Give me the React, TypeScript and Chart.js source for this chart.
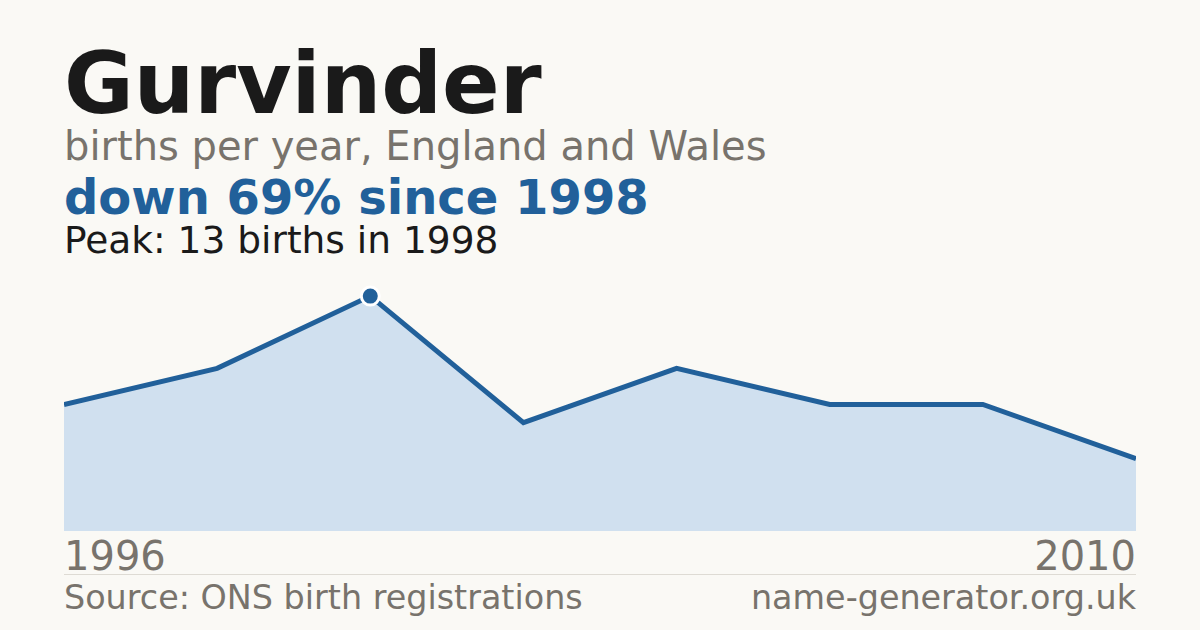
import { useEffect, useRef } from 'react';
import { Chart, registerables } from 'chart.js';

Chart.register(...registerables);

// births per year (years with suppressed counts are left out)
const years = ['1996', '1997', '1998', '2001', '2004', '2006', '2008', '2010'];
const births = [7, 9, 13, 6, 9, 7, 7, 4];

const peakIndex = births.indexOf(Math.max(...births));
const peak = births[peakIndex];
const latest = births[births.length - 1];
const dropPct = Math.round(((peak - latest) / peak) * 100);

const FONT = '"DejaVu Sans", sans-serif';
const BG = '#faf9f5';
const INK = '#1a1a1a';
const GREY = '#78736c';
const BLUE = '#21609a';

function BirthsChart() {
  const canvasRef = useRef<HTMLCanvasElement>(null);
  const chartRef = useRef<Chart | null>(null);

  useEffect(() => {
    if (!canvasRef.current) return;
    if (chartRef.current) chartRef.current.destroy();

    chartRef.current = new Chart(canvasRef.current, {
      type: 'line',
      data: {
        labels: years,
        datasets: [
          {
            data: births,
            borderColor: BLUE,
            borderWidth: 5,
            backgroundColor: '#d0e0ef',
            fill: 'origin',
            tension: 0,
            pointRadius: births.map((_, i) => (i === peakIndex ? 9 : 0)),
            pointBackgroundColor: BLUE,
            pointBorderColor: '#ffffff',
            pointBorderWidth: 3,
          },
        ],
      },
      options: {
        animation: false,
        responsive: false,
        maintainAspectRatio: false,
        layout: { padding: 0 },
        plugins: {
          legend: { display: false },
          tooltip: { enabled: false },
        },
        scales: {
          x: {
            type: 'category',
            offset: false,
            grid: { display: false, drawTicks: false },
            ticks: { display: false },
            border: { display: true, color: '#e8e1d6', width: 1 },
          },
          y: {
            display: false,
            min: 0,
            max: peak / 0.9,
          },
        },
      },
    });

    return () => {
      if (chartRef.current) {
        chartRef.current.destroy();
        chartRef.current = null;
      }
    };
  }, []);

  return (
    <canvas
      ref={canvasRef}
      width={1072}
      height={261}
      style={{ position: 'absolute', left: 64, top: 270, width: 1072, height: 261 }}
    />
  );
}

export default function App() {
  const text = (top: number, size: number, color: string, bold = false) => ({
    position: 'absolute' as const,
    top,
    left: 64,
    margin: 0,
    fontFamily: FONT,
    fontSize: size,
    lineHeight: 1,
    fontWeight: bold ? 700 : 400,
    color,
    whiteSpace: 'nowrap' as const,
  });

  return (
    <div
      style={{
        position: 'fixed',
        left: 0,
        top: 0,
        width: 1200,
        height: 630,
        background: BG,
        overflow: 'hidden',
      }}
    >
      <div style={text(41, 85, INK, true)}>Gurvinder</div>
      <div style={text(126, 40, GREY)}>births per year, England and Wales</div>
      <div style={text(173, 48, BLUE, true)}>
        down {dropPct}% since {years[peakIndex]}
      </div>
      <div style={text(222, 37.5, INK)}>
        Peak: {peak} births in {years[peakIndex]}
      </div>

      <BirthsChart />

      <div style={text(536, 40, GREY)}>{years[0]}</div>
      <div style={{ ...text(536, 40, GREY), left: 'auto', right: 64 }}>
        {years[years.length - 1]}
      </div>

      <div
        style={{
          position: 'absolute',
          left: 64,
          top: 574,
          width: 1072,
          height: 1,
          background: '#dedbd4',
        }}
      />

      <div style={text(581, 33.4, GREY)}>Source: ONS birth registrations</div>
      <div style={{ ...text(581, 33.4, GREY), left: 'auto', right: 64 }}>
        name-generator.org.uk
      </div>
    </div>
  );
}
